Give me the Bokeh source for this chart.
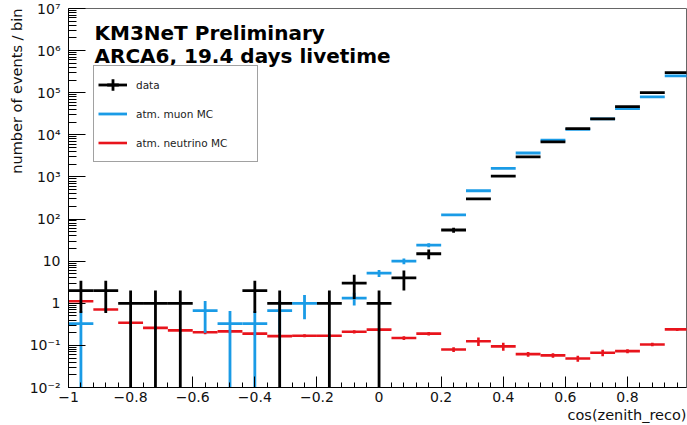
from bokeh.plotting import figure
from bokeh.models import (ColumnDataSource, FixedTicker, CustomJSTickFormatter, Label,
                          Legend, LegendItem, Range1d, Title)
from bokeh.embed import file_html
from bokeh.resources import INLINE

# ---------------- data ----------------
bin_centers = [-0.96, -0.88, -0.80, -0.72, -0.64, -0.56, -0.48, -0.40, -0.32, -0.24,
               -0.16, -0.08, 0.00, 0.08, 0.16, 0.24, 0.32, 0.40, 0.48, 0.56,
               0.64, 0.72, 0.80, 0.88, 0.96]
bin_half_width = 0.04

data_counts = [2, 2, 1, 1, 1, 0, 0, 2, 1, 0,
               1, 3, 1, 4, 15, 55, 300, 1050, 3000, 6800,
               14000, 24000, 47000, 100000, 300000]
data_errors = [1.41, 1.41, 1, 1, 1, 0, 0, 1.41, 1, 0,
               1, 1.73, 1, 2, 3.9, 7.4, 17, 32, 55, 82,
               118, 155, 217, 316, 548]

muon_mc = [0.33, 0, 0, 0, 0, 0.67, 0.33, 0.33, 0.67, 1.0,
           0, 1.33, 5.2, 10, 24, 125, 470, 1600, 3700, 7500,
           13500, 24000, 42000, 80000, 250000]
muon_err = [0.33, 0, 0, 0, 0, 0.47, 0.33, 0.33, 0.47, 0.58,
            0, 0.45, 1.0, 1.6, 2.5, 6, 12, 23, 35, 50,
            67, 90, 118, 163, 290]

nu_mc = [1.12, 0.71, 0.345, 0.26, 0.227, 0.205, 0.215, 0.19, 0.166, 0.17,
         0.17, 0.21, 0.237, 0.15, 0.19, 0.08, 0.125, 0.095, 0.062, 0.058,
         0.049, 0.067, 0.073, 0.105, 0.24]
nu_err = [0.10, 0.07, 0.03, 0.025, 0.02, 0.02, 0.02, 0.018, 0.015, 0.015,
          0.015, 0.018, 0.02, 0.015, 0.018, 0.01, 0.028, 0.02, 0.008, 0.007,
          0.008, 0.012, 0.008, 0.01, 0.02]

x_tick_values = [-1, -0.8, -0.6, -0.4, -0.2, 0, 0.2, 0.4, 0.6, 0.8]
x_tick_labels = ["\u22121", "\u22120.8", "\u22120.6", "\u22120.4", "\u22120.2",
                 "0", "0.2", "0.4", "0.6", "0.8"]
y_tick_values = [1e-2, 1e-1, 1, 10, 1e2, 1e3, 1e4, 1e5, 1e6, 1e7]
y_tick_labels = ["10\u207b\u00b2", "10\u207b\u00b9", "1", "10", "10\u00b2", "10\u00b3",
                 "10\u2074", "10\u2075", "10\u2076", "10\u2077"]

series_names = ["data", "atm. muon MC", "atm. neutrino MC"]
x_title = "cos(zenith_reco)"
y_title = "number of events / bin"
text_lines = ["KM3NeT Preliminary", "ARCA6, 19.4 days livetime"]

BLACK = "#000000"
BLUE = "#1a9be6"
RED = "#e8141c"
FONT = "DejaVu Sans"
Y_FLOOR = 1e-3  # error bars reaching zero are drawn to below the axis


def hist_sources(values, errors):
    hx0, hx1, hy, vx, vy0, vy1 = [], [], [], [], [], []
    for c, v, e in zip(bin_centers, values, errors):
        if v <= 0:
            continue
        hx0.append(c - bin_half_width)
        hx1.append(c + bin_half_width)
        hy.append(v)
        vx.append(c)
        vy0.append(max(v - e, Y_FLOOR))
        vy1.append(v + e)
    h = ColumnDataSource(dict(x0=hx0, x1=hx1, y=hy))
    v = ColumnDataSource(dict(x=vx, y0=vy0, y1=vy1))
    return h, v


p = figure(width=687, height=425, y_axis_type="log",
           x_range=Range1d(-1.0, 0.99), y_range=Range1d(1e-2, 1e7),
           output_backend="svg", toolbar_location=None,
           min_border_left=68, min_border_right=1, min_border_top=8, min_border_bottom=38,
           background_fill_color="white", border_fill_color="white")
p.grid.visible = False
p.outline_line_color = "#666666"
p.outline_line_width = 1

renderers = {}
for name, vals, errs, col, lw in [("nu", nu_mc, nu_err, RED, 2.6),
                                  ("mu", muon_mc, muon_err, BLUE, 2.8),
                                  ("data", data_counts, data_errors, BLACK, 2.8)]:
    hs, vs = hist_sources(vals, errs)
    rv = p.segment(x0="x", y0="y0", x1="x", y1="y1", source=vs, line_color=col, line_width=lw)
    rh = p.segment(x0="x0", y0="y", x1="x1", y1="y", source=hs, line_color=col, line_width=lw)
    renderers[name] = (rh, rv, hs)

# zero-size cross markers used for the "data" legend glyph
data_cross = p.scatter(x="x0", y="y", source=renderers["data"][2], marker="cross", size=0,
                       line_color=BLACK, line_width=2.8)

# ---------------- axes ----------------
p.xaxis.ticker = FixedTicker(ticks=x_tick_values,
                             minor_ticks=[round(-1 + 0.04 * i, 2) for i in range(51)])
p.xaxis.formatter = CustomJSTickFormatter(args=dict(tvals=x_tick_values, tlabels=x_tick_labels), code="""
for (let i = 0; i < tvals.length; i++) { if (Math.abs(tvals[i] - tick) < 1e-9) return tlabels[i]; }
return "";
""")
minor_y = [m * 10.0 ** d for d in range(-2, 7) for m in range(2, 10)]
p.yaxis.ticker = FixedTicker(ticks=y_tick_values, minor_ticks=minor_y)
p.yaxis.formatter = CustomJSTickFormatter(args=dict(tvals=y_tick_values, tlabels=y_tick_labels), code="""
for (let i = 0; i < tvals.length; i++) { if (Math.abs(Math.log10(tvals[i]) - Math.log10(tick)) < 1e-6) return tlabels[i]; }
return "";
""")

for ax in (p.xaxis[0], p.yaxis[0]):
    ax.axis_line_color = "black"
    ax.axis_line_width = 1
    ax.major_tick_line_color = "black"
    ax.minor_tick_line_color = "black"
    ax.major_tick_out = 0
    ax.minor_tick_out = 0
    ax.major_label_text_font = FONT
    ax.major_label_text_font_size = "14px"
    ax.major_label_text_color = "#111111"
p.xaxis.major_tick_in = 11
p.xaxis.minor_tick_in = 5
p.xaxis.major_label_standoff = 4
p.yaxis.major_tick_in = 17
p.yaxis.minor_tick_in = 8
p.yaxis.major_label_standoff = 8

# axis titles placed like ROOT (right / top aligned)
p.add_layout(Title(text=x_title, align="right", standoff=0, offset=0,
                   text_font=FONT, text_font_style="normal", text_font_size="14.5px",
                   text_color="#111111"), "below")
p.add_layout(Title(text=y_title, align="right", standoff=3, offset=0,
                   text_font=FONT, text_font_style="normal", text_font_size="14.5px",
                   text_color="#111111"), "left")

# header text
p.add_layout(Label(x=26, y=355, x_units="screen", y_units="screen", text=text_lines[0],
                   text_font=FONT, text_font_style="bold", text_font_size="20px",
                   text_baseline="alphabetic", text_color="black"))
p.add_layout(Label(x=26, y=332, x_units="screen", y_units="screen", text=text_lines[1],
                   text_font=FONT, text_font_style="bold", text_font_size="20px",
                   text_baseline="alphabetic", text_color="black"))

# legend
legend = Legend(items=[
    LegendItem(label=series_names[0], renderers=[renderers["data"][0], data_cross]),
    LegendItem(label=series_names[1], renderers=[renderers["mu"][0]]),
    LegendItem(label=series_names[2], renderers=[renderers["nu"][0]]),
], location=(25, 225), orientation="vertical",
    glyph_width=29, glyph_height=29, label_height=29, label_width=117, spacing=0,
    padding=4, margin=0, label_standoff=9,
    label_text_font=FONT, label_text_font_size="10.5px", label_text_color="#222222",
    border_line_color="#444444", border_line_width=1,
    background_fill_color="white", background_fill_alpha=1)
p.add_layout(legend)

open("out.html", "w").write(file_html(p, INLINE))
